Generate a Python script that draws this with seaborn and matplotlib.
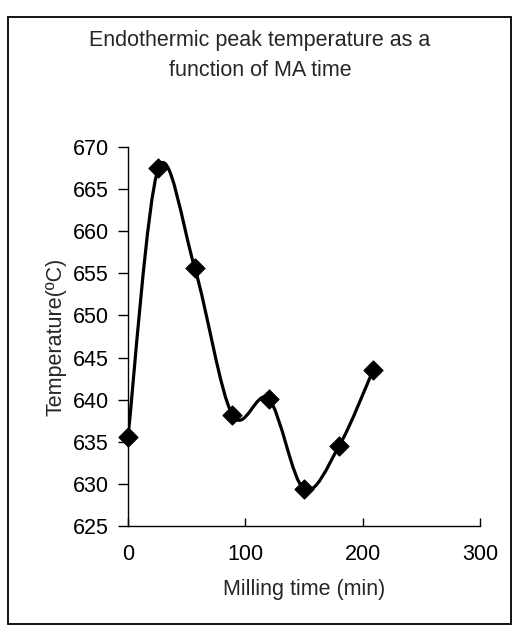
import numpy as np
import pandas as pd
import seaborn as sns
import matplotlib.pyplot as plt
from matplotlib.path import Path
from matplotlib.patches import PathPatch, Rectangle

# data
milling_time = [0, 26, 57, 89, 120, 150, 180, 209]
temperature = [635.6, 667.5, 655.6, 638.2, 640.1, 629.4, 634.5, 643.5]
x_ticks = [0, 100, 200, 300]
y_ticks = [625, 630, 635, 640, 645, 650, 655, 660, 665, 670]

sns.set_style("ticks")
plt.rcParams['font.family'] = ['Liberation Sans', 'DejaVu Sans']

df = pd.DataFrame({'time': milling_time, 'temp': temperature})

fig = plt.figure(figsize=(5.19, 6.29), dpi=100)
ax = fig.add_axes([0.2466, 0.1638, 0.678, 0.6025])

# excel-like smoothed line (catmull-rom segments drawn as cubic beziers)
pts = df[['time', 'temp']].to_numpy(dtype=float)
n = len(pts)
verts = [pts[0]]
codes = [Path.MOVETO]
for i in range(n - 1):
    p0 = pts[max(i - 1, 0)]
    p1 = pts[i]
    p2 = pts[i + 1]
    p3 = pts[min(i + 2, n - 1)]
    c1 = p1 + (p2 - p0) / 6
    c2 = p2 - (p3 - p1) / 6
    verts += [c1, c2, p2]
    codes += [Path.CURVE4] * 3
ax.add_patch(PathPatch(Path(verts, codes), facecolor='none', edgecolor='black', lw=2.3, zorder=2))

sns.scatterplot(data=df, x='time', y='temp', marker='D', s=95, color='black',
                edgecolor='black', zorder=3, ax=ax, clip_on=False)

ax.set_xlim(0, 300)
ax.set_ylim(625, 670)
ax.set_xticks(x_ticks)
ax.set_yticks(y_ticks)
sns.despine(ax=ax)
for s in ['left', 'bottom']:
    ax.spines[s].set_color('black')
    ax.spines[s].set_linewidth(1.0)
ax.tick_params(axis='y', direction='out', length=7, width=1, colors='black', labelsize=15.5, pad=7)
ax.tick_params(axis='x', direction='in', length=6, width=1, colors='black', labelsize=15.5, pad=13)

ax.set_xlabel('Milling time (min)', fontsize=15.5, labelpad=10)
ax.set_ylabel('Temperature(ºC)', fontsize=15.5, labelpad=4)

fig.text(0.501, 0.952, 'Endothermic peak temperature as a\nfunction of MA time',
         ha='center', va='top', fontsize=15.5, linespacing=1.55)

# chart area border
fig.add_artist(Rectangle((0.016, 0.008), 0.968, 0.965, transform=fig.transFigure,
                         fill=False, edgecolor='black', lw=1.3))

fig.savefig('out.png', dpi=100)
